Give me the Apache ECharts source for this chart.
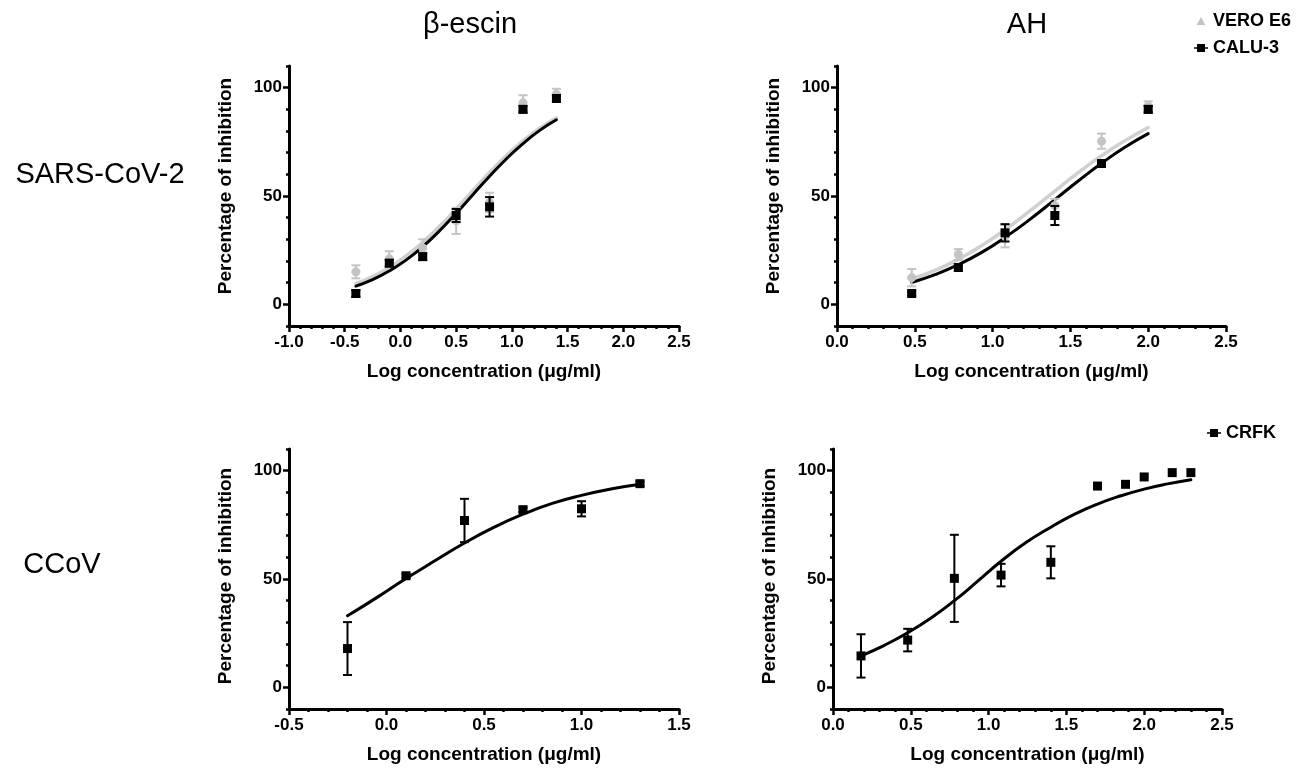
<!DOCTYPE html>
<html><head><meta charset="utf-8">
<script src="https://cdn.jsdelivr.net/npm/echarts@6/dist/echarts.min.js"></script>
<style>html,body{margin:0;padding:0;background:#fff}#c{width:1311px;height:768px}</style>
</head><body><div id="c"></div>
<script>
// ---- β-escin, SARS-CoV-2 ----
const escinX = [-0.4, -0.1, 0.2, 0.5, 0.8, 1.1, 1.4];
const escinCalu = [5, 19, 22, 41, 45, 90, 95];
const escinCaluErr = [1.5, 1.5, 1.5, 3, 4.5, 1.5, 1.5];
const escinVero = [15, 21, 26, 38.5, 47, 93, 97];
const escinVeroErr = [3, 3.5, 4, 6, 4.5, 3.5, 2.5];
const escinFitX = [-0.4, -0.25, -0.1, 0.05, 0.2, 0.35, 0.5, 0.65, 0.8, 0.95, 1.1, 1.25, 1.4];
const escinFitCalu = [8.4, 11.4, 15.4, 20.4, 26.6, 33.9, 42.0, 50.6, 59.1, 67.1, 74.2, 80.3, 85.2];
const escinFitVero = [9.5, 12.8, 17.0, 22.3, 28.6, 36.0, 44.0, 52.5, 60.9, 68.6, 75.5, 81.3, 86.1];

// ---- AH, SARS-CoV-2 ----
const ahX = [0.48, 0.78, 1.08, 1.4, 1.7, 2.0];
const ahCalu = [5, 17, 33, 41, 65, 90];
const ahCaluErr = [1, 1.5, 4, 4.4, 1.5, 1.5];
const ahVero = [12.3, 23, 31.5, 45.5, 75.3, 91.5];
const ahVeroErr = [4, 2.5, 5.2, 3.2, 3.5, 2.2];
const ahFitX = [0.48, 0.63, 0.78, 0.93, 1.08, 1.24, 1.4, 1.55, 1.7, 1.85, 2.0];
const ahFitCalu = [10.1, 13.7, 18.3, 24.0, 30.9, 39.2, 48.3, 56.9, 65.1, 72.5, 78.8];
const ahFitVero = [11.8, 15.7, 20.8, 27.1, 34.4, 43.1, 52.3, 60.8, 68.6, 75.5, 81.6];

// ---- β-escin, CCoV ----
const ccEscX = [-0.2, 0.1, 0.4, 0.7, 1.0, 1.3];
const ccEscCrfk = [17.9, 51.5, 77, 82, 82.4, 94];
const ccEscCrfkErr = [12.2, 1, 10, 1, 3.5, 1];
const ccEscFitX = [-0.2, -0.05, 0.1, 0.25, 0.4, 0.55, 0.7, 0.85, 1.0, 1.15, 1.3];
const ccEscFit = [33.0, 41.4, 50.2, 58.5, 66.6, 73.8, 79.9, 84.9, 88.6, 91.5, 93.7];

// ---- AH, CCoV ----
const ccAhX = [0.18, 0.48, 0.78, 1.08, 1.4, 1.7, 1.88, 2.0, 2.18, 2.3];
const ccAhCrfk = [14.5, 21.8, 50.3, 51.8, 57.7, 92.9, 93.7, 97.1, 99.1, 99.1];
const ccAhCrfkErr = [10, 5.2, 20.1, 5.2, 7.4, 0, 0, 0, 0, 0];
const ccAhFitX = [0.18, 0.33, 0.48, 0.63, 0.78, 0.93, 1.08, 1.24, 1.4, 1.55, 1.7, 1.85, 2.0, 2.15, 2.3];
const ccAhFit = [14.5, 19.4, 25.2, 32.0, 40.0, 49.0, 58.2, 66.8, 73.9, 79.8, 84.6, 88.4, 91.5, 93.9, 95.8];

// ---- axes / labels ----
const xRanges = [[-1, 2.5], [0, 2.5], [-0.5, 1.5], [0, 2.5]];
const yMajorTicks = [0, 50, 100];
const colTitles = ['β-escin', 'AH'];
const rowTitles = ['SARS-CoV-2', 'CCoV'];
const xTitle = 'Log concentration (μg/ml)';
const yTitle = 'Percentage of inhibition';

const FONT = 'Liberation Sans, Arial, sans-serif';
const BLACK = '#000';
const GREY = '#c4c4c4';
const GREY_LINE = '#d0d0d0';

function zip(xs, ys) { return xs.map((x, i) => [x, ys[i]]); }
function zip3(xs, ys, es) { return xs.map((x, i) => [x, ys[i], es[i]]); }

const grids = [
  {left: 289, top: 66, width: 390, height: 260},
  {left: 837, top: 66, width: 389, height: 260},
  {left: 289, top: 449, width: 390, height: 260},
  {left: 833, top: 449, width: 389, height: 260}
];

const xAxis = xRanges.map((r, i) => ({
  type: 'value', gridIndex: i, min: r[0], max: r[1], interval: 0.5,
  axisLine: {show: true, onZero: false, lineStyle: {color: BLACK, width: 3}},
  axisTick: {show: true, length: 6, lineStyle: {color: BLACK, width: 2.5}},
  minorTick: {show: true, splitNumber: 5, length: 3, lineStyle: {color: BLACK, width: 2.5}},
  splitLine: {show: false}, minorSplitLine: {show: false},
  axisLabel: {color: BLACK, fontFamily: FONT, fontWeight: 'bold', fontSize: 17, margin: 8,
    formatter: v => v.toFixed(1)},
  name: xTitle, nameLocation: 'middle', nameGap: 36,
  nameTextStyle: {color: BLACK, fontFamily: FONT, fontWeight: 'bold', fontSize: 19}
}));

const yAxis = [];
grids.forEach((g, i) => {
  yAxis.push({
    type: 'value', gridIndex: i, min: -10, max: 110, interval: 10, position: 'left',
    axisLine: {show: true, onZero: false, lineStyle: {color: BLACK, width: 3}},
    axisTick: {show: true, length: 3, lineStyle: {color: BLACK, width: 2.5}},
    axisLabel: {show: false}, splitLine: {show: false}
  });
  yAxis.push({
    type: 'value', gridIndex: i, min: -10, max: 110, position: 'left',
    axisLine: {show: false, onZero: false},
    axisTick: {show: true, customValues: yMajorTicks, length: 6, lineStyle: {color: BLACK, width: 2.5}},
    axisLabel: {show: true, customValues: yMajorTicks, color: BLACK, fontFamily: FONT,
      fontWeight: 'bold', fontSize: 17, margin: 7},
    splitLine: {show: false},
    name: yTitle, nameLocation: 'middle', nameGap: 54,
    nameTextStyle: {color: BLACK, fontFamily: FONT, fontWeight: 'bold', fontSize: 19,
      padding: i < 2 ? [0, 0, 0, 20] : [0, 0, 0, 6]}
  });
});

function errRender(params, api) {
  const x = api.value(0), y = api.value(1), e = api.value(2);
  if (!e) return null;
  const t = api.coord([x, y + e]);
  const b = api.coord([x, y - e]);
  const c = api.visual('color');
  const hw = 4.5;
  const st = {stroke: c, lineWidth: 2};
  return {type: 'group', children: [
    {type: 'line', shape: {x1: t[0], y1: t[1], x2: b[0], y2: b[1]}, style: st},
    {type: 'line', shape: {x1: t[0] - hw, y1: t[1], x2: t[0] + hw, y2: t[1]}, style: st},
    {type: 'line', shape: {x1: b[0] - hw, y1: b[1], x2: b[0] + hw, y2: b[1]}, style: st}
  ]};
}

function fit(name, gi, xs, ys, color, w) {
  return {name: name, type: 'line', xAxisIndex: gi, yAxisIndex: gi * 2, data: zip(xs, ys),
    smooth: 0.5, showSymbol: false, symbol: 'none',
    lineStyle: {color: color, width: w, cap: 'round'},
    itemStyle: {color: color}, silent: true, z: 2};
}
function err(name, gi, xs, ys, es, color, z) {
  return {name: name, type: 'custom', xAxisIndex: gi, yAxisIndex: gi * 2,
    data: zip3(xs, ys, es), encode: {x: 0, y: 1}, renderItem: errRender,
    itemStyle: {color: color}, z: z, silent: true};
}
function pts(name, gi, xs, ys, color, symbol, size, z) {
  return {name: name, type: 'scatter', xAxisIndex: gi, yAxisIndex: gi * 2, data: zip(xs, ys),
    symbol: symbol, symbolSize: size, itemStyle: {color: color, opacity: 1}, z: z, silent: true};
}

const series = [
  fit('VERO E6 fit', 0, escinFitX, escinFitVero, GREY_LINE, 3.5),
  fit('CALU-3 fit', 0, escinFitX, escinFitCalu, BLACK, 3),
  err('VERO E6 err', 0, escinX, escinVero, escinVeroErr, GREY, 3),
  pts('VERO E6', 0, escinX, escinVero, GREY, 'circle', 9, 4),
  err('CALU-3 err', 0, escinX, escinCalu, escinCaluErr, BLACK, 5),
  pts('CALU-3', 0, escinX, escinCalu, BLACK, 'rect', 9, 6),

  fit('VERO E6 fit', 1, ahFitX, ahFitVero, GREY_LINE, 3.5),
  fit('CALU-3 fit', 1, ahFitX, ahFitCalu, BLACK, 3),
  err('VERO E6 err', 1, ahX, ahVero, ahVeroErr, GREY, 3),
  pts('VERO E6', 1, ahX, ahVero, GREY, 'circle', 9, 4),
  err('CALU-3 err', 1, ahX, ahCalu, ahCaluErr, BLACK, 5),
  pts('CALU-3', 1, ahX, ahCalu, BLACK, 'rect', 9, 6),

  fit('CRFK fit', 2, ccEscFitX, ccEscFit, BLACK, 3),
  err('CRFK err', 2, ccEscX, ccEscCrfk, ccEscCrfkErr, BLACK, 5),
  pts('CRFK', 2, ccEscX, ccEscCrfk, BLACK, 'rect', 9, 6),

  fit('CRFK fit', 3, ccAhFitX, ccAhFit, BLACK, 3),
  err('CRFK err', 3, ccAhX, ccAhCrfk, ccAhCrfkErr, BLACK, 5),
  pts('CRFK', 3, ccAhX, ccAhCrfk, BLACK, 'rect', 9, 6)
];

const triIcon = 'path://M5,0 L10,9 L0,9 Z';
const sqLineIcon = 'path://M0,3.2 L3,3.2 L3,0 L11,0 L11,3.2 L14,3.2 L14,4.8 L11,4.8 L11,8 L3,8 L3,4.8 L0,4.8 Z';
const legendText = {color: BLACK, fontFamily: FONT, fontWeight: 'bold', fontSize: 18, lineHeight: 18};

const titleStyle = {color: BLACK, fontFamily: FONT, fontWeight: 'normal', fontSize: 29, lineHeight: 30};

const option = {
  animation: false,
  backgroundColor: '#fff',
  title: [
    {text: colTitles[0], left: 470, top: 10, textAlign: 'center', textStyle: titleStyle, padding: 0},
    {text: colTitles[1], left: 1027, top: 10, textAlign: 'center', textStyle: titleStyle, padding: 0},
    {text: rowTitles[0], left: 100, top: 160, textAlign: 'center', textStyle: titleStyle, padding: 0},
    {text: rowTitles[1], left: 62, top: 550, textAlign: 'center', textStyle: titleStyle, padding: 0}
  ],
  legend: [
    {data: [{name: 'VERO E6', icon: triIcon}, {name: 'CALU-3', icon: sqLineIcon}],
      orient: 'vertical', left: 1194, top: 12, itemWidth: 14, itemHeight: 8, itemGap: 9,
      selectedMode: false, textStyle: legendText, padding: 0},
    {data: [{name: 'CRFK', icon: sqLineIcon}],
      orient: 'vertical', left: 1207, top: 424, itemWidth: 14, itemHeight: 8,
      selectedMode: false, textStyle: legendText, padding: 0}
  ],
  grid: grids,
  xAxis: xAxis,
  yAxis: yAxis,
  series: series
};

const chart = echarts.init(document.getElementById('c'), null, {renderer: 'canvas'});
chart.setOption(option);
</script>
</body></html>
